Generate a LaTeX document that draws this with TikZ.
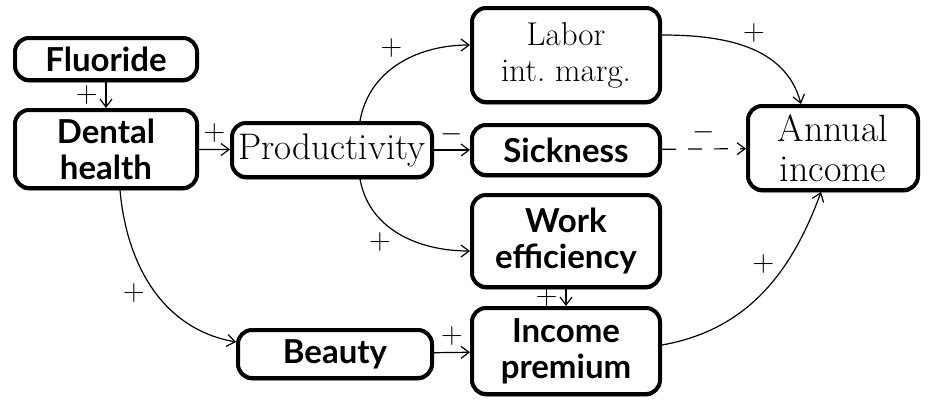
\documentclass[tikz,border=0pt]{standalone}
\usepackage{fontspec}
\newfontfamily\boxfont{Lato}
\usetikzlibrary{arrows.meta,shadows}
\begin{document}
\begin{tikzpicture}[x=0.5pt,y=-0.5pt,
    varbox/.style={draw,line width=2pt,rounded corners=7pt,fill=white,
        align=center,inner sep=0pt,font=\boxfont\bfseries\fontsize{16.5}{18}\selectfont,
        general shadow={fill=black,shadow yshift=-1.2pt}},
    plainbox/.style={varbox,font=\fontsize{18.5}{19}\selectfont},
    link/.style={-{Straight Barb[length=4pt,width=6pt]},line width=0.6pt},
    sign/.style={font=\fontsize{15}{15}\selectfont,inner sep=1pt}]
\useasboundingbox (0,0) rectangle (928,402);
\node[varbox,minimum width=91pt,minimum height=21pt] (flu) at (106,59) {Fluoride};
\node[varbox,minimum width=91pt,minimum height=39pt] (dent) at (106,149) {Dental\\health};
\node[plainbox,minimum width=100pt,minimum height=27pt] (prod) at (332,150) {Productivity};
\node[plainbox,minimum width=94pt,minimum height=47pt,font=\fontsize{16.5}{18}\selectfont] (lab) at (566,55) {Labor\\int.\ marg.};
\node[varbox,minimum width=94pt,minimum height=25pt] (sick) at (566,150) {Sickness};
\node[varbox,minimum width=94pt,minimum height=46pt] (work) at (566,241) {Work\\efficiency};
\node[varbox,minimum width=97pt,minimum height=24pt] (beau) at (335,354) {Beauty};
\node[varbox,minimum width=94pt,minimum height=43pt] (prem) at (566,351) {Income\\premium};
\node[plainbox,minimum width=85pt,minimum height=42pt,font=\fontsize{19}{20}\selectfont] (ann) at (833,148) {Annual\\income};
% causal links
\draw[link] (flu) -- node[sign,left,xshift=-3pt] {+} (dent);
\draw[link] (dent) -- node[sign,above,yshift=2pt] {+} (prod);
\draw[link] (prod) -- node[sign,above,yshift=2pt] {$-$} (sick);
\draw[link,dash pattern=on 7pt off 6pt] (sick) -- node[sign,above,yshift=2pt] {$-$} (ann);
\draw[link] ([xshift=14pt]prod.north) to[out=80,in=180] node[sign,pos=0.55,above left] {+} ([yshift=5pt]lab.west);
\draw[link] ([xshift=14pt]prod.south) to[out=-80,in=180] node[sign,pos=0.45,below left] {+} ([yshift=-5pt]work.west);
\draw[link] ([xshift=7pt]dent.south) to[out=-85,in=170] node[sign,pos=0.45,below left] {+} ([yshift=6pt]beau.west);
\draw[link] (beau) -- node[sign,above,yshift=2pt] {+} (prem);
\draw[link] (work) -- node[sign,left,xshift=-3pt] {+} (prem);
\draw[link] ([yshift=10pt]lab.east) to[out=0,in=105] node[sign,pos=0.45,above right] {+} ([xshift=-16pt]ann.north);
\draw[link] ([yshift=3pt]prem.east) to[out=10,in=-110] node[sign,pos=0.6,above left] {+} ([xshift=-6pt]ann.south);
\end{tikzpicture}
\end{document}
